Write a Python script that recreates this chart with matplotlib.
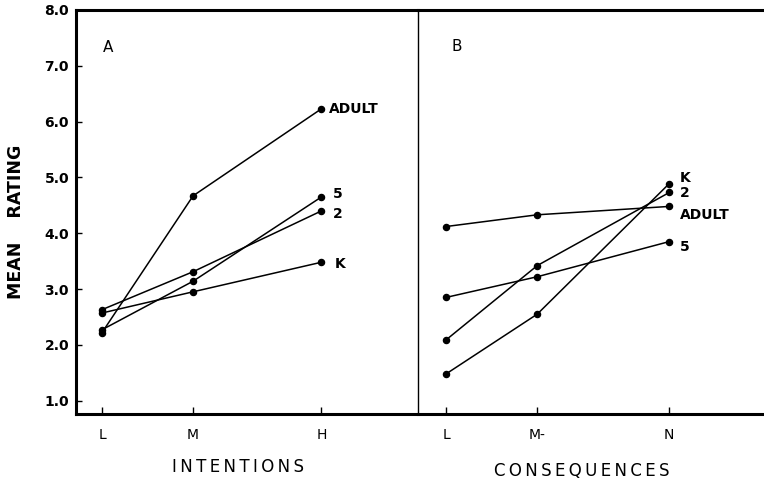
import matplotlib
matplotlib.use("Agg")
import matplotlib.pyplot as plt

# ---- data ----
groups = ["ADULT", "5", "2", "K"]

intent_levels = ["L", "M", "H"]
intent_pos = [1.0, 2.0, 3.41]
intent_vals = {
    "ADULT": [2.22, 4.67, 6.23],
    "5":     [2.27, 3.14, 4.65],
    "2":     [2.63, 3.31, 4.40],
    "K":     [2.57, 2.95, 3.48],
}

conseq_levels = ["L", "M-", "N"]
conseq_pos = [1.0, 2.0, 3.45]
conseq_vals = {
    "ADULT": [4.12, 4.33, 4.48],
    "5":     [2.85, 3.22, 3.85],
    "2":     [2.09, 3.42, 4.73],
    "K":     [1.48, 2.55, 4.89],
}

y_ticks = [1, 2, 3, 4, 5, 6, 7, 8]

# label offsets next to the last point (x offset in data, y value of label)
intent_lab = {"ADULT": (0.08, 6.23), "5": (0.12, 4.70), "2": (0.12, 4.35), "K": (0.15, 3.44)}
conseq_lab = {"K": (0.12, 4.99), "2": (0.12, 4.72), "ADULT": (0.12, 4.33), "5": (0.12, 3.76)}

TS = "\u2009"  # thin space for the wide-lettered axis titles

W, H = 764, 483
fig = plt.figure(figsize=(W / 100, H / 100), dpi=100)
left, right, top, bot, div = 76, 764, 10, 414, 418
ax1 = fig.add_axes([left / W, (H - bot) / H, (div - left) / W, (bot - top) / H])
ax2 = fig.add_axes([div / W, (H - bot) / H, (right - div) / W, (bot - top) / H])

ymin, ymax = 0.76, 8.0


def draw(ax, pos, vals, levels, labs, xmin, xmax):
    for g in groups:
        ax.plot(pos, vals[g], color="black", lw=1.1, marker="o", ms=4.4,
                solid_capstyle="round", zorder=3)
        dx, yl = labs[g]
        ax.text(pos[-1] + dx, yl, g, fontsize=10, fontweight="bold",
                ha="left", va="center")
    ax.set_xlim(xmin, xmax)
    ax.set_ylim(ymin, ymax)
    ax.set_xticks(pos)
    ax.set_xticklabels(levels, fontsize=10)
    ax.tick_params(axis="x", direction="in", length=5, width=1, pad=10)
    for s in ["top", "bottom"]:
        ax.spines[s].set_linewidth(2.2)
    ax.spines["right"].set_visible(False)


draw(ax1, intent_pos, intent_vals, intent_levels, intent_lab, 0.714, 4.47)
draw(ax2, conseq_pos, conseq_vals, conseq_levels, conseq_lab, 0.69, 4.49)

ax1.spines["left"].set_linewidth(2.2)
ax1.set_yticks(y_ticks)
ax1.set_yticklabels([f"{v:.1f}" for v in y_ticks], fontsize=10, fontweight="bold")
ax1.tick_params(axis="y", direction="in", length=4, width=1, pad=5)

ax2.spines["left"].set_linewidth(1.0)
ax2.set_yticks([])

ax1.text(1.07, 7.33, "A", fontsize=11, ha="center", va="center")
ax2.text(1.12, 7.35, "B", fontsize=11, ha="center", va="center")

fig.text(16 / W, 1 - 222 / H, "MEAN    RATING", rotation=90, fontsize=12.5,
         fontweight="bold", ha="center", va="center")
fig.text(238 / W, 1 - 467 / H, TS.join("INTENTIONS"), fontsize=12,
         ha="center", va="center")
fig.text(582 / W, 1 - 471 / H, TS.join("CONSEQUENCES"), fontsize=12,
         ha="center", va="center")

fig.savefig("out.png", dpi=100)
